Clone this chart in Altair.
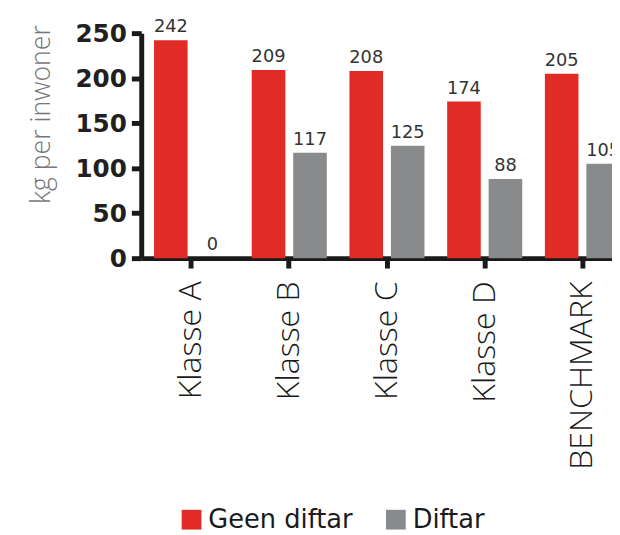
import altair as alt
import pandas as pd

categories = ["Klasse A", "Klasse B", "Klasse C", "Klasse D", "BENCHMARK"]
series_names = ["Geen diftar", "Diftar"]
geen_diftar = [242, 209, 208, 174, 205]
diftar = [0, 117, 125, 88, 105]
y_ticks = [0, 50, 100, 150, 200, 250]
colors = ["#e02b26", "#888a8c"]

rows = []
for i, c in enumerate(categories):
    rows.append({"cat": c, "series": series_names[0], "value": geen_diftar[i]})
    rows.append({"cat": c, "series": series_names[1], "value": diftar[i]})
df = pd.DataFrame(rows)

x_enc = alt.X(
    "cat:N",
    sort=categories,
    scale=alt.Scale(range=[0, 498], paddingInner=0.232, paddingOuter=0.131),
    axis=alt.Axis(
        title=None,
        labelAngle=-90,
        labelFont="Open Sans",
        labelFontWeight=300,
        labelFontSize=32.5,
        labelColor="#1a1a1a",
        labelPadding=13,
        labelLimit=400,
        labelExpr="datum.value == 'BENCHMARK' ? datum.value : datum.value + '\u00a0\u00a0'",
        domainColor="#1a1a1a",
        domainWidth=5,
        tickColor="#1a1a1a",
        tickWidth=5,
        tickSize=10,
        grid=False,
    ),
)
xoff = alt.XOffset(
    "series:N",
    sort=series_names,
    scale=alt.Scale(paddingInner=0.19, paddingOuter=0),
)
y_enc = alt.Y(
    "value:Q",
    scale=alt.Scale(domain=[0, 250], nice=False),
    axis=alt.Axis(
        values=y_ticks,
        title="kg per inwoner",
        titleFont="Open Sans",
        titleFontWeight=300,
        titleFontSize=27,
        titleColor="#777777",
        titleAngle=-90,
        titleAlign="center",
        titleBaseline="middle",
        titleX=-101,
        titleY=82,
        labelFont="DejaVu Sans",
        labelFontWeight="bold",
        labelFontSize=25,
        labelColor="#231f20",
        labelPadding=5,
        grid=False,
        domainColor="#1a1a1a",
        domainWidth=5,
        tickColor="#1a1a1a",
        tickWidth=5,
        tickSize=10,
    ),
)

bars = alt.Chart(df).mark_bar().encode(
    x=x_enc,
    xOffset=xoff,
    y=y_enc,
    color=alt.Color(
        "series:N",
        sort=series_names,
        scale=alt.Scale(domain=series_names, range=colors),
        legend=alt.Legend(
            title=None,
            orient="none",
            direction="horizontal",
            legendX=38,
            legendY=480,
            symbolType="square",
            symbolSize=400,
            symbolStrokeWidth=0,
            symbolOpacity=1,
            labelFont="DejaVu Sans",
            labelFontSize=26,
            labelColor="#1a1a1a",
            labelOffset=4,
            columnPadding=30,
            padding=0,
        ),
    ),
)

labels = alt.Chart(df).mark_text(
    baseline="bottom", dy=-4, font="DejaVu Sans", fontSize=18, color="#333333"
).encode(
    x=alt.X("cat:N", sort=categories),
    xOffset=alt.XOffset("series:N", sort=series_names),
    y=alt.Y("value:Q"),
    text=alt.Text("value:Q"),
)

chart = (
    alt.layer(bars, labels)
    .properties(
        width=477,
        height=228,
        background="white",
        autosize=alt.AutoSizeParams(type="none"),
        padding={"left": 135, "top": 22, "right": 0, "bottom": 275},
    )
    .configure_view(strokeWidth=0, stroke="transparent")
    .configure_axis(grid=False)
)

chart.save("out.html", embed_options={"renderer": "svg", "actions": False})
